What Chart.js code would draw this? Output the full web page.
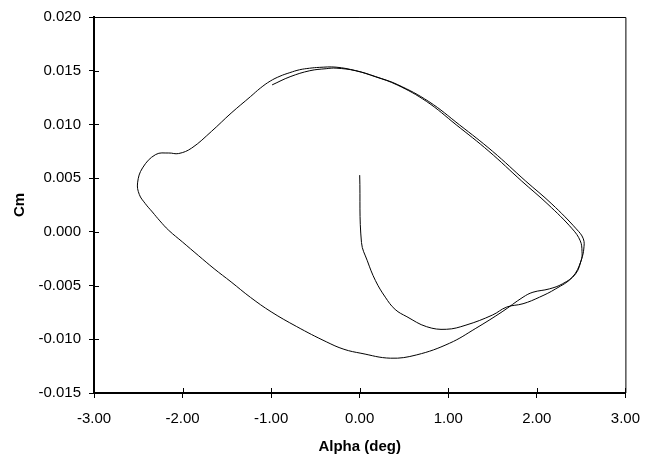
<!DOCTYPE html>
<html>
<head>
<meta charset="utf-8">
<script src="https://cdn.jsdelivr.net/npm/chart.js@4/dist/chart.umd.min.js"></script>
<style>
  html, body { margin: 0; padding: 0; background: #fff; }
  #wrap { width: 652px; height: 457px; }
</style>
</head>
<body>
<div id="wrap"><canvas id="c" width="652" height="457"></canvas></div>
<script>
// Angle of attack (deg) along the trace, in drawing order
const alphaDeg = [
  0.00, 0.02, 0.086, 0.178, 0.289, 0.40, 0.533, 0.756, 0.978, 1.20, 1.497, 1.66, 1.844, 2.03, 2.214, 2.40, 2.50,
  2.51, 2.49, 2.40, 2.126, 1.83, 1.459, 1.089, 0.756, 0.422, 0.178, -0.044, -0.267, -0.456, -0.567, -0.678, -0.789, -0.90, -1.011, -1.122, -1.233,
  -1.452, -1.674, -1.897, -2.044, -2.156, -2.303, -2.452, -2.508, -2.489, -2.422, -2.341, -2.256, -2.156, -2.00, -1.822, -1.644, -1.452,
  -1.233, -1.00, -0.711, -0.378, -0.178, 0.014, 0.348, 0.644, 1.014, 1.311, 1.608, 1.844, 1.956, 2.141, 2.289, 2.437, 2.506,
  2.53, 2.525, 2.445, 2.17, 1.875, 1.50, 1.125, 0.78, 0.43, 0.182, -0.044, -0.267, -0.378, -0.563, -0.786, -0.989
];
// Pitching moment coefficient Cm for each point
const cm = [
  0.00528, -0.00099, -0.00269, -0.00454, -0.00608, -0.00722, -0.00790, -0.00883, -0.00907, -0.00868, -0.00775, -0.00700, -0.00669, -0.00608, -0.00530, -0.00423, -0.00269,
  -0.00180, -0.00083, 0.00028, 0.00256, 0.00472, 0.00750, 0.00997, 0.01213, 0.01368, 0.01444, 0.01500, 0.01533, 0.01531, 0.01523, 0.01509, 0.01482, 0.01449, 0.01403, 0.01338, 0.01259,
  0.01105, 0.00935, 0.00780, 0.00729, 0.00734, 0.00720, 0.00595, 0.00456, 0.00349, 0.00264, 0.00185, 0.00102, 0.00014, -0.00095, -0.00220, -0.00343, -0.00466,
  -0.00610, -0.00744, -0.00882, -0.01023, -0.01093, -0.01130, -0.01176, -0.01145, -0.01037, -0.00898, -0.00744, -0.00608, -0.00562, -0.00531, -0.00484, -0.00392, -0.00250,
  -0.00160, -0.00065, 0.00028, 0.00259, 0.00472, 0.00750, 0.00997, 0.01213, 0.01370, 0.01444, 0.01500, 0.01524, 0.01519, 0.01500, 0.01444, 0.01368
];
const xTicks = [-3, -2, -1, 0, 1, 2, 3];
const yTicks = [-0.015, -0.010, -0.005, 0.000, 0.005, 0.010, 0.015, 0.020];

const FONT = "'Liberation Sans', Arial, sans-serif";
const points = alphaDeg.map((a, i) => ({ x: a, y: cm[i] }));

const frame = {
  id: 'frame',
  afterDraw(chart) {
    const { ctx, chartArea: a, scales } = chart;
    ctx.save();
    ctx.strokeStyle = '#000';
    ctx.lineWidth = 1;
    ctx.beginPath();
    ctx.moveTo(a.left, a.top + 0.5);
    ctx.lineTo(a.right + 0.5, a.top + 0.5);
    ctx.lineTo(a.right + 0.5, a.bottom);
    ctx.stroke();
    // inner halves of crossing tick marks
    ctx.beginPath();
    scales.x.ticks.forEach(t => {
      const px = Math.round(scales.x.getPixelForValue(t.value)) + 0.5;
      ctx.moveTo(px, a.bottom);
      ctx.lineTo(px, a.bottom - 5);
    });
    scales.y.ticks.forEach(t => {
      const py = Math.round(scales.y.getPixelForValue(t.value)) + 0.5;
      ctx.moveTo(a.left, py);
      ctx.lineTo(a.left + 5, py);
    });
    ctx.stroke();
    ctx.restore();
  }
};

new Chart(document.getElementById('c'), {
  type: 'scatter',
  data: {
    datasets: [{
      data: points,
      showLine: true,
      borderColor: '#000',
      borderWidth: 1,
      pointRadius: 0,
      pointHoverRadius: 0,
      tension: 0.4,
      fill: false
    }]
  },
  options: {
    responsive: false,
    animation: false,
    events: [],
    layout: { padding: { left: 0, right: 18, top: 15, bottom: 0 } },
    plugins: { legend: { display: false }, tooltip: { enabled: false } },
    scales: {
      x: {
        type: 'linear',
        min: xTicks[0], max: xTicks[xTicks.length - 1],
        afterBuildTicks: s => { s.ticks = xTicks.map(v => ({ value: v })); },
        afterFit: s => { s.height = 64; },
        grid: { drawOnChartArea: false, drawTicks: true, tickLength: 5, color: '#000', lineWidth: 1 },
        border: { display: true, color: '#000', width: 2 },
        ticks: {
          color: '#000', padding: 12,
          font: { family: FONT, size: 15 },
          callback: v => Number(v).toFixed(2),
          maxRotation: 0
        },
        title: {
          display: true, text: 'Alpha (deg)', color: '#000',
          font: { family: FONT, size: 15, weight: 'bold' },
          padding: { top: 0, bottom: 1 }
        }
      },
      y: {
        type: 'linear',
        min: yTicks[0], max: yTicks[yTicks.length - 1],
        afterBuildTicks: s => { s.ticks = yTicks.map(v => ({ value: v })); },
        afterFit: s => { s.width = 94; },
        grid: { drawOnChartArea: false, drawTicks: true, tickLength: 5, color: '#000', lineWidth: 1 },
        border: { display: true, color: '#000', width: 2 },
        ticks: {
          color: '#000', padding: 8,
          font: { family: FONT, size: 15 },
          callback: v => Number(v).toFixed(3)
        },
        title: {
          display: true, text: 'Cm', color: '#000',
          font: { family: FONT, size: 15, weight: 'bold' },
          padding: { top: 11, bottom: 0 }
        }
      }
    }
  },
  plugins: [frame]
});
</script>
</body>
</html>
